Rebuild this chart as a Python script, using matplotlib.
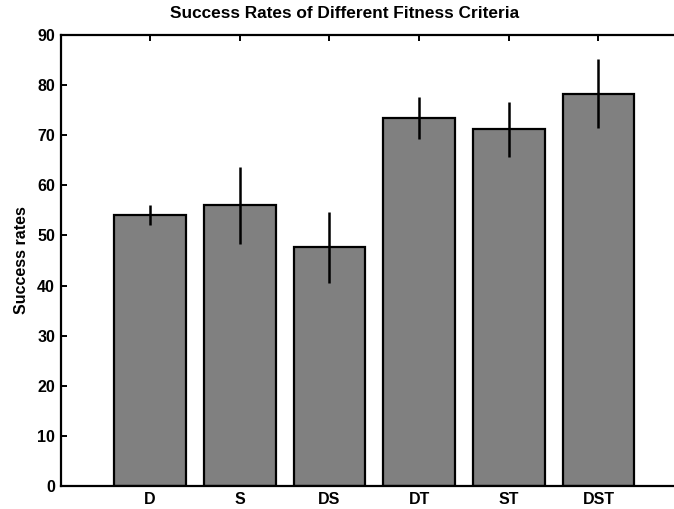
import matplotlib
matplotlib.use("Agg")
import matplotlib.pyplot as plt
import numpy as np

plt.rcParams["font.family"] = ["Liberation Sans", "DejaVu Sans"]
plt.rcParams["font.weight"] = "bold"
plt.rcParams["axes.titleweight"] = "bold"
plt.rcParams["axes.labelweight"] = "bold"

categories = ["D", "S", "DS", "DT", "ST", "DST"]
rates = [54.0, 56.0, 47.6, 73.4, 71.2, 78.3]
errors = [2.0, 7.7, 7.0, 4.2, 5.5, 6.9]

fig = plt.figure(figsize=(6.74, 5.09), dpi=100)
# axes runs past the right edge like the cropped original
ax = fig.add_axes([0.0898, 0.0452, 0.931, 0.886])

x = np.arange(1, len(categories) + 1)
ax.bar(x, rates, width=0.8, color="#808080", edgecolor="black", linewidth=1.6,
       zorder=2)
ax.errorbar(x, rates, yerr=errors, fmt="none", ecolor="black", elinewidth=1.8,
            capsize=0, zorder=3)

ax.set_xlim(0, 7)
ax.set_ylim(0, 90)
ax.set_xticks(x)
ax.set_xticklabels(categories)
ax.set_yticks(np.arange(0, 91, 10))
ax.tick_params(direction="in", length=4, width=1.4, labelsize=11.5,
               top=True, right=False, pad=4)
for sp in ax.spines.values():
    sp.set_linewidth(1.6)

ax.set_ylabel("Success rates", fontsize=11.5, labelpad=6)
ax.set_title("Success Rates of Different Fitness Criteria", fontsize=12.4,
             x=(344 - 60.5) / 627, pad=12)

fig.savefig("out.png", dpi=100)
